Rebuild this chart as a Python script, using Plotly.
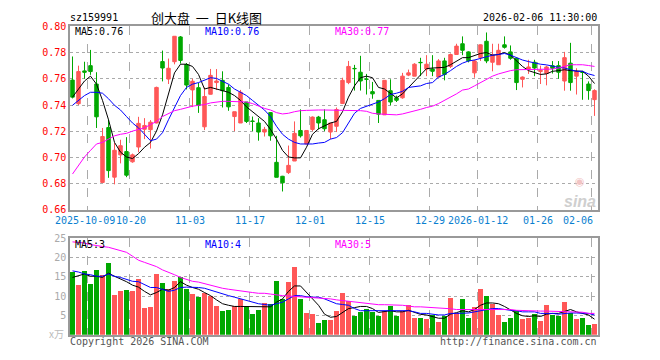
import plotly.graph_objects as go

dates = ["2025-09-26","2025-09-29","2025-09-30","2025-10-09","2025-10-10","2025-10-13","2025-10-14","2025-10-15","2025-10-16","2025-10-17",
         "2025-10-20","2025-10-21","2025-10-22","2025-10-23","2025-10-24","2025-10-27","2025-10-28","2025-10-29","2025-10-30","2025-10-31",
         "2025-11-03","2025-11-04","2025-11-05","2025-11-06","2025-11-07","2025-11-10","2025-11-11","2025-11-12","2025-11-13","2025-11-14",
         "2025-11-17","2025-11-18","2025-11-19","2025-11-20","2025-11-21","2025-11-24","2025-11-25","2025-11-26","2025-11-27","2025-11-28",
         "2025-12-01","2025-12-02","2025-12-03","2025-12-04","2025-12-05","2025-12-08","2025-12-09","2025-12-10","2025-12-11","2025-12-12",
         "2025-12-15","2025-12-16","2025-12-17","2025-12-18","2025-12-19","2025-12-22","2025-12-23","2025-12-24","2025-12-25","2025-12-26",
         "2025-12-29","2025-12-30","2025-12-31","2026-01-05","2026-01-06","2026-01-07","2026-01-08","2026-01-09","2026-01-12","2026-01-13",
         "2026-01-14","2026-01-15","2026-01-16","2026-01-19","2026-01-20","2026-01-21","2026-01-22","2026-01-23","2026-01-26","2026-01-27",
         "2026-01-28","2026-01-29","2026-01-30","2026-02-02","2026-02-03","2026-02-04","2026-02-05","2026-02-06"]

open_ = [0.759,0.741,0.766,0.770,0.756,0.681,0.7228,0.685,0.702,0.7045,
         0.6967,0.708,0.7215,0.7212,0.7263,0.7731,0.7598,0.773,0.7919,0.7709,
         0.7515,0.7532,0.7234,0.7482,0.7571,0.7588,0.7534,0.7312,0.7263,0.7423,
         0.7278,0.7263,0.7194,0.7342,0.6963,0.6857,0.6885,0.6973,0.7206,0.7103,
         0.7214,0.7308,0.7288,0.7194,0.7238,0.7411,0.7571,0.7679,0.765,0.7598,
         0.7502,0.7435,0.7325,0.7509,0.7455,0.7455,0.7628,0.762,0.7725,0.7674,
         0.7674,0.7613,0.7736,0.7694,0.7785,0.7867,0.7805,0.7645,0.7761,0.7886,
         0.7726,0.7707,0.7859,0.7805,0.7756,0.7596,0.7675,0.7726,0.7655,0.764,
         0.770,0.770,0.7583,0.7719,0.762,0.765,0.756,0.7441]
high = [0.777,0.770,0.773,0.782,0.765,0.7225,0.729,0.711,0.7135,0.7155,
        0.703,0.731,0.730,0.7285,0.754,0.7815,0.7754,0.7924,0.7926,0.772,
        0.760,0.7569,0.7534,0.7675,0.7674,0.7657,0.7557,0.7349,0.7515,0.7423,
        0.7312,0.730,0.7233,0.7345,0.7165,0.686,0.7091,0.7275,0.7367,0.7206,
        0.7313,0.7317,0.7367,0.7263,0.7381,0.7608,0.7736,0.7706,0.7775,0.7637,
        0.7576,0.7435,0.7588,0.7596,0.7472,0.7645,0.767,0.7719,0.776,0.778,
        0.778,0.775,0.776,0.7793,0.7867,0.7923,0.781,0.7745,0.7862,0.7953,
        0.7867,0.7867,0.7923,0.7854,0.7756,0.7618,0.7745,0.7745,0.770,0.770,
        0.7735,0.7735,0.7805,0.7874,0.768,0.766,0.758,0.752]
low = [0.745,0.740,0.760,0.763,0.7225,0.681,0.6845,0.6795,0.6955,0.685,
       0.696,0.704,0.714,0.7068,0.726,0.758,0.756,0.771,0.7716,0.7519,
       0.7384,0.734,0.7209,0.748,0.7514,0.7381,0.7356,0.7201,0.7263,0.7263,
       0.7201,0.7128,0.716,0.7128,0.6849,0.6741,0.6874,0.6973,0.7152,0.710,
       0.7201,0.7214,0.7201,0.714,0.7194,0.7411,0.7559,0.751,0.751,0.748,
       0.7448,0.7263,0.7325,0.7398,0.7423,0.7448,0.762,0.762,0.762,0.762,
       0.762,0.7613,0.7588,0.7682,0.7785,0.778,0.7725,0.7608,0.7736,0.7719,
       0.7657,0.7707,0.783,0.7745,0.7514,0.7534,0.7637,0.762,0.756,0.755,
       0.764,0.760,0.7509,0.7509,0.748,0.744,0.744,0.7317]
close = [0.746,0.7655,0.765,0.7655,0.731,0.716,0.690,0.7055,0.709,0.6865,
         0.702,0.726,0.7244,0.7269,0.7534,0.7682,0.768,0.7924,0.774,0.7552,
         0.7581,0.7396,0.7465,0.7626,0.7583,0.7509,0.7386,0.7349,0.7497,0.7275,
         0.7275,0.7194,0.7214,0.7165,0.6849,0.6807,0.694,0.7184,0.7165,0.7206,
         0.7308,0.7263,0.7219,0.7263,0.7366,0.7588,0.7694,0.7677,0.7583,0.7596,
         0.7485,0.733,0.7588,0.7423,0.7436,0.762,0.7645,0.7711,0.7723,0.7711,
         0.7657,0.7736,0.7633,0.7785,0.7849,0.7817,0.7737,0.7736,0.7859,0.7736,
         0.778,0.7817,0.784,0.7756,0.7571,0.7613,0.769,0.7682,0.7665,0.769,
         0.768,0.765,0.7761,0.7571,0.7655,0.7648,0.751,0.751]

ma5 = [0.746,0.7522,0.7583,0.762,0.7559,0.7435,0.7288,0.7115,0.7041,0.7004,
       0.6992,0.7029,0.7078,0.7115,0.7201,0.7325,0.7485,0.7645,0.7711,0.7711,
       0.7694,0.7633,0.7522,0.7534,0.7522,0.7509,0.7497,0.7472,0.7435,0.7386,
       0.7349,0.7312,0.7275,0.7214,0.714,0.7054,0.7004,0.6997,0.6997,0.7078,
       0.7177,0.7219,0.7238,0.7263,0.7275,0.7349,0.746,0.7546,0.7608,0.762,
       0.7608,0.7534,0.7522,0.749,0.7455,0.7485,0.7534,0.7583,0.7633,0.7677,
       0.7682,0.7682,0.7687,0.7707,0.7736,0.7761,0.7761,0.778,0.7793,0.780,
       0.778,0.7785,0.780,0.778,0.7736,0.7694,0.7662,0.7645,0.7633,0.7637,
       0.7657,0.7662,0.7669,0.7662,0.7657,0.7657,0.762,0.7564]
ma10 = [0.7398,0.7435,0.7472,0.7497,0.7497,0.749,0.7448,0.7398,0.7362,0.7312,
        0.7263,0.7226,0.7177,0.7128,0.714,0.7189,0.7288,0.7374,0.7472,0.7534,
        0.7559,0.7571,0.7588,0.7608,0.7603,0.7583,0.7559,0.7522,0.7497,0.7472,
        0.7435,0.7398,0.7362,0.7312,0.7238,0.7177,0.714,0.7115,0.7103,0.7103,
        0.7103,0.711,0.7115,0.714,0.7152,0.7189,0.7263,0.7337,0.7374,0.7391,
        0.7406,0.7423,0.7448,0.748,0.749,0.7504,0.7534,0.7539,0.7546,0.7564,
        0.7571,0.7613,0.7633,0.7662,0.7694,0.7719,0.7736,0.7743,0.7756,0.7768,
        0.778,0.7785,0.7793,0.778,0.7761,0.7743,0.7731,0.7719,0.7711,0.7706,
        0.7694,0.7687,0.7682,0.7669,0.7657,0.7657,0.7637,0.7625]
ma30 = [0.6874,0.6943,0.7004,0.7054,0.7103,0.7115,0.714,0.7165,0.7177,0.7184,
        0.7201,0.7214,0.7226,0.7251,0.7275,0.7312,0.7337,0.7357,0.7367,0.7381,
        0.7391,0.7398,0.7403,0.7416,0.7423,0.7428,0.7428,0.7428,0.7426,0.7423,
        0.7411,0.7391,0.7374,0.7362,0.7342,0.7332,0.7337,0.7349,0.7357,0.7359,
        0.7362,0.7362,0.7362,0.7362,0.7362,0.7357,0.7357,0.7357,0.7357,0.7352,
        0.7337,0.7332,0.733,0.7332,0.7325,0.7332,0.7342,0.7357,0.7367,0.7381,
        0.7391,0.7411,0.7435,0.7455,0.7485,0.7514,0.7522,0.7546,0.7571,0.7596,
        0.762,0.7637,0.7652,0.7662,0.7669,0.7669,0.7669,0.7669,0.7669,0.7669,
        0.7674,0.7682,0.7694,0.7707,0.7707,0.7707,0.7701,0.7694]

volume = [16.25,12.9,16.5,13.2,16.75,15.4,18.5,10.25,11.25,11.5,
          11.25,14.3,6.8,7.1,15.75,13.25,11.7,13.8,15.0,11.7,
          10.6,9.8,10.75,10.0,7.3,6.25,6.5,7.5,9.2,7.5,
          5.25,6.5,8.2,8.0,14.0,9.2,13.75,17.5,9.3,5.5,
          5.25,3.1,3.75,3.75,6.2,10.9,8.8,4.7,5.8,6.6,
          5.8,4.7,6.1,7.4,4.8,6.2,7.6,4.3,4.3,4.0,
          5.1,3.4,4.7,9.5,5.6,9.1,4.3,7.2,11.7,9.9,
          8.0,5.1,3.4,4.3,6.0,4.1,4.3,5.3,3.6,7.6,
          5.1,4.7,8.4,5.7,4.0,4.3,2.6,2.8]
vma5 = [14.8,15.3,15.7,15.1,15.1,14.8,15.9,15.1,14.5,13.7,
        12.8,12.3,11.2,10.3,10.9,11.75,11.5,12.2,13.7,12.8,
        12.2,11.75,10.9,10.1,9.0,8.0,7.6,7.3,7.3,7.3,
        7.3,7.3,7.3,7.2,8.4,9.25,11.2,12.6,12.6,10.9,
        9.25,7.6,5.3,4.5,4.7,5.7,6.75,7.0,7.3,7.3,
        6.75,5.75,5.9,6.2,5.9,5.9,6.3,5.7,5.25,5.1,
        4.7,4.25,4.25,5.3,5.7,6.2,5.9,6.5,7.6,8.2,
        8.2,8.0,7.3,6.3,5.5,4.9,4.7,4.9,4.7,5.3,
        5.5,5.5,5.9,6.5,5.9,5.5,5.1,4.0]
vma10 = [16.5,16.2,15.7,15.5,15.1,15.1,15.7,15.1,14.8,14.25,
         13.8,13.7,13.0,12.2,12.2,11.75,11.2,11.5,12.2,12.3,
         12.3,12.2,12.0,11.5,10.9,10.5,10.1,9.7,9.25,8.8,
         8.4,8.0,7.8,7.6,8.0,8.4,9.25,10.1,10.1,9.8,
         9.7,9.7,9.25,8.6,8.0,7.8,7.6,6.75,6.2,6.2,
         6.2,6.2,6.2,6.2,6.2,6.2,6.2,5.9,5.5,5.5,
         5.3,5.1,5.1,5.5,5.5,5.6,5.6,5.9,6.2,6.5,
         6.75,6.75,6.5,6.3,6.2,5.9,5.9,5.9,5.5,5.5,
         5.5,5.3,5.5,5.6,5.6,5.5,5.5,5.1]
vma30 = [24.0,23.8,23.7,23.3,23.0,22.8,22.6,22.2,21.75,21.3,
         20.3,19.25,18.7,18.2,17.6,16.75,16.2,15.5,14.8,14.25,
         13.8,13.6,13.2,12.8,12.3,12.0,11.75,11.5,11.3,11.1,
         10.9,10.7,10.7,10.5,10.25,10.1,10.0,9.9,9.8,9.75,
         9.7,9.5,9.4,9.25,9.0,8.8,8.7,8.4,8.25,8.0,
         7.8,7.75,7.75,7.75,7.7,7.6,7.4,7.2,7.2,7.1,
         7.0,6.95,6.95,6.7,6.5,6.5,6.5,6.5,6.5,6.5,
         6.5,6.5,6.5,6.5,6.3,6.2,6.2,6.1,6.1,6.1,
         6.05,6.05,6.05,5.9,5.85,5.8,5.5,5.5]

tick_dates = ["2025-10-09","2025-10-20","2025-11-03","2025-11-17","2025-12-01",
              "2025-12-15","2025-12-29","2026-01-12","2026-01-26","2026-02-06"]
tick_labels = ["2025-10-09","10-20","11-03","11-17","12-01","12-15","12-29","2026-01-12","01-26","02-06"]
price_ticks = [0.66,0.68,0.70,0.72,0.74,0.76,0.78,0.80]
vol_ticks = [5,10,15,20,25]
price_legend = ["MA5:0.76", "MA10:0.76", "MA30:0.77"]
vol_legend = ["MA5:3", "MA10:4", "MA30:5"]

RED = "#ff5757"
GREEN = "#00a800"
MONO = "DejaVu Sans Mono"
W, H = 660, 360
PX_L, PX_R = 70, 598
MAIN_T, MAIN_B = 21, 211
VOL_T, VOL_B = 240, 340

idx = list(range(len(dates)))
tick_pos = [dates.index(d) - 0.5 for d in tick_dates]
bar_colors = [RED if c >= o else GREEN for o, c in zip(open_, close)]

def px(x):
    return x / W
def py(y):
    return 1 - y / H

fig = go.Figure()
fig.add_trace(go.Candlestick(
    x=idx, open=open_, high=high, low=low, close=close,
    increasing=dict(line=dict(color=RED, width=1), fillcolor=RED),
    decreasing=dict(line=dict(color=GREEN, width=1), fillcolor=GREEN),
    whiskerwidth=0, xaxis="x", yaxis="y", hoverinfo="skip"))
for arr, col in [(ma5, "#000000"), (ma10, "#0000ff"), (ma30, "#ff00ff")]:
    fig.add_trace(go.Scatter(x=idx, y=arr, mode="lines", line=dict(color=col, width=1),
                             xaxis="x", yaxis="y", hoverinfo="skip"))
fig.add_trace(go.Bar(x=idx, y=volume, width=0.8, marker=dict(color=bar_colors, line=dict(width=0)),
                     xaxis="x2", yaxis="y2", hoverinfo="skip"))
for arr, col in [(vma5, "#000000"), (vma10, "#0000ff"), (vma30, "#ff00ff")]:
    fig.add_trace(go.Scatter(x=idx, y=arr, mode="lines", line=dict(color=col, width=1),
                             xaxis="x2", yaxis="y2", hoverinfo="skip"))

xr = [-0.4167, len(dates) - 0.4167]
xcommon = dict(range=xr, domain=[px(PX_L), px(PX_R)], tickvals=tick_pos, showticklabels=False,
               showgrid=True, gridcolor="#aaaaaa", griddash="dash", gridwidth=1,
               showline=True, mirror=True, linecolor="#999999", linewidth=1.5,
               zeroline=False, ticks="", fixedrange=True)
fig.update_layout(
    width=W, height=H, margin=dict(l=0, r=0, t=0, b=0),
    paper_bgcolor="white", plot_bgcolor="white", showlegend=False,
    bargap=0, boxgap=0.17,
    xaxis=dict(**xcommon, anchor="y", rangeslider=dict(visible=False)),
    xaxis2=dict(**xcommon, anchor="y2", matches="x"),
    yaxis=dict(domain=[py(MAIN_B), py(MAIN_T)], range=[0.66, 0.80], tickvals=price_ticks,
               ticktext=["%.2f" % v for v in price_ticks],
               tickfont=dict(family=MONO, size=10, color="#ff0000"),
               showgrid=True, gridcolor="#aaaaaa", griddash="dot", gridwidth=1,
               showline=True, mirror=True, linecolor="#999999", linewidth=1.5,
               zeroline=False, ticks="", anchor="x", fixedrange=True),
    yaxis2=dict(domain=[py(VOL_B), py(VOL_T)], range=[0, 25], tickvals=vol_ticks,
                tickfont=dict(family=MONO, size=10, color="#aaaaaa"),
                showgrid=True, gridcolor="#aaaaaa", griddash="dot", gridwidth=1,
                showline=True, mirror=True, linecolor="#999999", linewidth=1.5,
                zeroline=False, ticks="", anchor="x2", fixedrange=True),
)

ann = []
def text(x, y, s, color="#000000", size=10, anchor="left", family=MONO):
    ann.append(dict(x=px(x), y=py(y), xref="paper", yref="paper", text=s,
                    showarrow=False, xanchor=anchor, yanchor="middle",
                    font=dict(family=family, size=size, color=color)))

text(68, 12, "sz159991")
text(206, 12, "创大盘  一  日K线图", size=13, anchor="center", family="Noto Sans CJK SC")
text(599, 12, "2026-02-06 11:30:00", anchor="right")
for xx, s, col in zip([73, 203, 333], price_legend, ["#000000", "#0000ff", "#ff00ff"]):
    text(xx, 26, s, color=col)
for xx, s, col in zip([73, 203, 333], vol_legend, ["#000000", "#0000ff", "#ff00ff"]):
    text(xx, 246.5, s, color=col)
for i, (pos, lab) in enumerate(zip(tick_pos, tick_labels)):
    a = "right" if i == len(tick_labels) - 1 else "center"
    xv = pos + 0.6 if a == "right" else pos
    shift = -3 if i == 0 else (1 if i == 1 else 0)
    ann.append(dict(x=xv, y=py(222), xref="x", yref="paper", text=lab, showarrow=False,
                    xanchor=a, yanchor="middle", xshift=shift,
                    font=dict(family=MONO, size=10, color="#0a7fd0")))
text(66, 339, "x万", color="#bbbbbb", anchor="right", family="Noto Sans CJK SC", size=10)
text(68, 347, "Copyright 2026 SINA.COM", color="#555555")
text(599, 347, "http://finance.sina.com.cn", color="#555555", anchor="right")
text(580, 182, "◉", color="#f2c4c4", size=11, anchor="center", family="DejaVu Sans")
text(598, 202, "<b><i>sina</i></b>", color="#cfcfcf", size=16, anchor="right", family="Arial")
fig.update_layout(annotations=ann)

fig.write_html("out.html", config={"displayModeBar": False},
               post_script="document.body.style.margin='0px';document.body.style.overflow='hidden';")
